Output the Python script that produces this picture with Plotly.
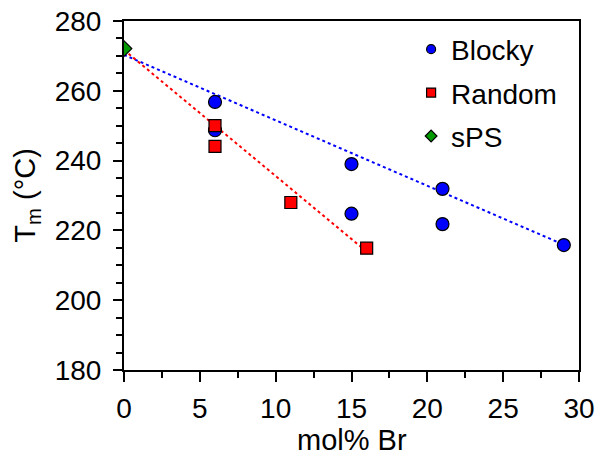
import plotly.graph_objects as go

# Data
blocky_x = [6, 6, 15, 15, 21, 21, 29]
blocky_y = [256.8, 248.7, 239.0, 224.8, 231.9, 221.8, 215.8]

random_x = [6, 6, 11, 16]
random_y = [250.0, 244.1, 228.0, 214.9]

sps_x = [0]
sps_y = [272.1]

# Trend lines (endpoints)
blocky_fit_x = [0, 29]
blocky_fit_y = [270.3, 215.9]
random_fit_x = [0, 15.7]
random_fit_y = [271.7, 215.0]

x_title = "mol% Br"
y_title = "T<sub>m</sub> (°C)"

FONT = "Liberation Sans, Arial, sans-serif"

fig = go.Figure()

# trend lines
fig.add_trace(go.Scatter(x=blocky_fit_x, y=blocky_fit_y, mode="lines",
                         line=dict(color="#0000FF", width=2, dash="dot"),
                         showlegend=False, hoverinfo="skip"))
fig.add_trace(go.Scatter(x=random_fit_x, y=random_fit_y, mode="lines",
                         line=dict(color="#FF0000", width=2, dash="dot"),
                         showlegend=False, hoverinfo="skip"))

# data markers
fig.add_trace(go.Scatter(x=blocky_x, y=blocky_y, mode="markers", name="Blocky",
                         marker=dict(symbol="circle", size=13, color="#0000FF",
                                     line=dict(color="black", width=1.2)),
                         showlegend=False))
fig.add_trace(go.Scatter(x=random_x, y=random_y, mode="markers", name="Random",
                         marker=dict(symbol="square", size=12, color="#FF0000",
                                     line=dict(color="black", width=1.2)),
                         showlegend=False))
fig.add_trace(go.Scatter(x=sps_x, y=sps_y, mode="markers", name="sPS",
                         marker=dict(symbol="diamond", size=12, color="#009900",
                                     line=dict(color="black", width=1.2)),
                         showlegend=False))

# legend entries (smaller symbols as in the reference)
legend_items = [("Blocky", "circle", "#0000FF"),
                ("Random", "square", "#FF0000"),
                ("sPS", "diamond", "#009900")]
for name, sym, col in legend_items:
    fig.add_trace(go.Scatter(x=[None], y=[None], mode="markers", name=name,
                             legendgroup=name,
                             marker=dict(symbol=sym, size=9, color=col,
                                         line=dict(color="black", width=1.2))))

fig.update_layout(
    width=598, height=456,
    margin=dict(l=124, r=19, t=21, b=86, autoexpand=False),
    paper_bgcolor="white", plot_bgcolor="white",
    font=dict(family=FONT, color="black", size=28),
    legend=dict(x=0.631, y=0.99, xanchor="left", yanchor="top",
                font=dict(family=FONT, size=28, color="black"),
                bgcolor="rgba(0,0,0,0)", tracegroupgap=4,
                itemwidth=30),
    xaxis=dict(range=[0, 30], dtick=5, tick0=0, showgrid=False, zeroline=False,
               showline=True, linecolor="black", linewidth=2, mirror=True,
               ticks="outside", ticklen=10, tickwidth=2, tickcolor="black",
               minor=dict(dtick=2.5, ticks="outside", ticklen=6, tickwidth=2,
                          tickcolor="black", showgrid=False),
               tickfont=dict(size=28), ticklabelstandoff=2, automargin=False),
    yaxis=dict(range=[180, 280], dtick=20, tick0=180, showgrid=False, zeroline=False,
               showline=True, linecolor="black", linewidth=2, mirror=True,
               ticks="outside", ticklen=9, tickwidth=2, tickcolor="black",
               minor=dict(dtick=5, ticks="outside", ticklen=6, tickwidth=2,
                          tickcolor="black", showgrid=False),
               tickfont=dict(size=28), ticklabelstandoff=6, automargin=False),
    annotations=[
        dict(text=x_title, xref="paper", yref="paper", x=0.5, y=-0.2,
             xanchor="center", yanchor="middle", showarrow=False,
             font=dict(family=FONT, size=29, color="black")),
        dict(text=y_title, xref="paper", yref="paper", x=-0.215, y=0.5,
             xanchor="center", yanchor="middle", textangle=-90, showarrow=False,
             font=dict(family=FONT, size=29, color="black")),
    ],
)

fig.write_html("out.html")
